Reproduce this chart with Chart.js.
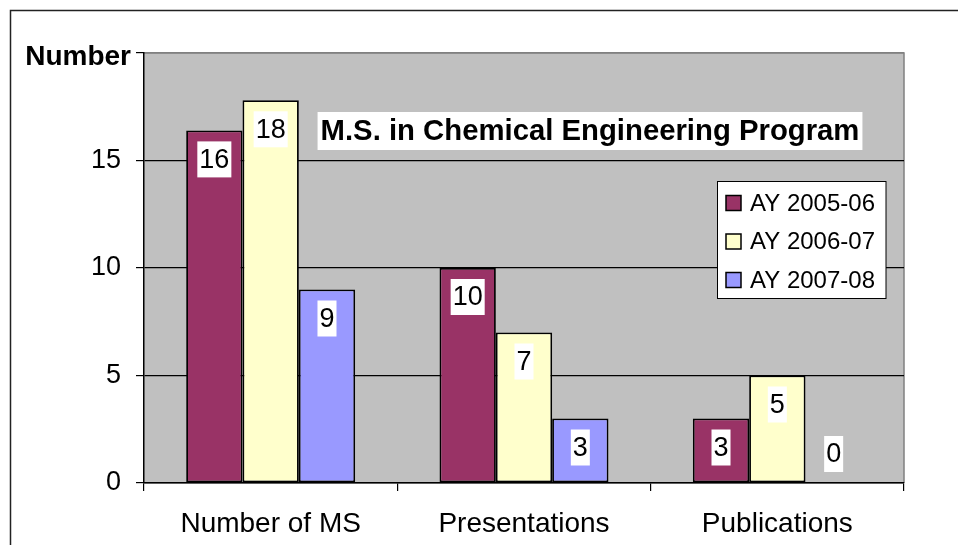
<!DOCTYPE html>
<html>
<head>
<meta charset="utf-8">
<script src="https://cdn.jsdelivr.net/npm/chart.js@4"></script>
<style>
  html, body { margin: 0; padding: 0; background: #fff; }
  #wrap { width: 958px; height: 545px; position: relative; }
</style>
</head>
<body>
<div id="wrap"><canvas id="msChart"></canvas></div>
<script>
// Chart data
const categories = ['Number of MS', 'Presentations', 'Publications'];
const seriesNames = ['AY 2005-06', 'AY 2006-07', 'AY 2007-08'];
const ay0506 = [16.4, 10, 3];
const ay0607 = [17.8, 7, 5];
const ay0708 = [9, 3, 0];
const seriesColors = ['#993366', '#FFFFCC', '#9999FF'];
const yTicks = [0, 5, 10, 15, 20];
const chartTitle = 'M.S. in Chemical Engineering Program';
const yTitle = 'Number';

const FONT = '"Liberation Sans", Arial, sans-serif';

// Background, plot frame, outer border
const backdrop = {
  id: 'backdrop',
  beforeDraw(chart) {
    const { ctx, chartArea: a } = chart;
    ctx.save();
    ctx.fillStyle = '#fff';
    ctx.fillRect(0, 0, chart.width, chart.height);
    ctx.strokeStyle = '#222';
    ctx.lineWidth = 1.5;
    ctx.beginPath();
    ctx.moveTo(10.5, chart.height + 2);
    ctx.lineTo(10.5, 10.5);
    ctx.lineTo(chart.width + 2, 10.5);
    ctx.stroke();
    ctx.fillStyle = '#C0C0C0';
    ctx.fillRect(a.left, a.top, a.right - a.left, a.bottom - a.top);
    ctx.strokeStyle = '#808080';
    ctx.lineWidth = 1.5;
    ctx.beginPath();
    ctx.moveTo(a.left, a.top);
    ctx.lineTo(a.right, a.top);
    ctx.lineTo(a.right, a.bottom);
    ctx.stroke();
    ctx.restore();
  }
};

// Value labels, title, axis title and legend
const overlay = {
  id: 'overlay',
  afterDatasetsDraw(chart) {
    const { ctx } = chart;
    const base = chart.scales.y.getPixelForValue(0);
    ctx.save();
    ctx.textAlign = 'center';
    ctx.textBaseline = 'middle';
    ctx.font = '27px ' + FONT;
    chart.data.datasets.forEach((ds, i) => {
      chart.getDatasetMeta(i).data.forEach((bar, j) => {
        const txt = String(Math.round(ds.data[j]));
        const w = ctx.measureText(txt).width + 4;
        const cy = Math.min(bar.y + 29, base - 29);
        ctx.fillStyle = '#fff';
        ctx.fillRect(bar.x - w / 2, cy - 18, w, 36);
        ctx.fillStyle = '#000';
        ctx.fillText(txt, bar.x, cy + 1);
      });
    });

    // chart title
    ctx.font = 'bold 29.3px ' + FONT;
    const tw = ctx.measureText(chartTitle).width + 6;
    ctx.fillStyle = '#fff';
    ctx.fillRect(590 - tw / 2, 112, tw, 38);
    ctx.fillStyle = '#000';
    ctx.fillText(chartTitle, 590, 132);

    // y-axis title
    ctx.textAlign = 'right';
    ctx.font = 'bold 28px ' + FONT;
    ctx.fillText(yTitle, 131, 57);

    // legend
    const lx = 717.5, ly = 181.5, lw = 168.5, lh = 117;
    ctx.fillStyle = '#fff';
    ctx.fillRect(lx, ly, lw, lh);
    ctx.strokeStyle = '#000';
    ctx.lineWidth = 1;
    ctx.strokeRect(lx, ly, lw, lh);
    ctx.textAlign = 'left';
    ctx.font = '24px ' + FONT;
    chart.data.datasets.forEach((ds, i) => {
      const cy = 203 + i * 38.5;
      ctx.fillStyle = ds.backgroundColor;
      ctx.fillRect(726, cy - 7.5, 15, 15);
      ctx.lineWidth = 1.5;
      ctx.strokeRect(726, cy - 7.5, 15, 15);
      ctx.fillStyle = '#000';
      ctx.fillText(ds.label, 750, cy + 1);
    });
    ctx.restore();
  }
};

const datasets = [ay0506, ay0607, ay0708].map((vals, i) => ({
  label: seriesNames[i],
  data: vals,
  backgroundColor: seriesColors[i],
  borderColor: '#000',
  borderWidth: 1.8,
  borderSkipped: false,
  categoryPercentage: 0.667,
  barPercentage: 1.0
}));

new Chart(document.getElementById('msChart'), {
  type: 'bar',
  data: { labels: categories, datasets: datasets },
  options: {
    responsive: true,
    maintainAspectRatio: false,
    animation: false,
    layout: { padding: { top: 53, right: 54, left: 0, bottom: 0 } },
    plugins: {
      legend: { display: false },
      title: { display: false },
      tooltip: { enabled: false }
    },
    scales: {
      y: {
        min: yTicks[0],
        max: yTicks[yTicks.length - 1],
        afterBuildTicks(scale) {
          scale.ticks = yTicks.map(v => ({ value: v }));
        },
        afterFit(scale) { scale.width = 144; },
        border: { color: '#000', width: 1.5 },
        grid: {
          color: ctx => ctx.tick && ctx.tick.value === 20 ? '#808080' : '#000',
          tickColor: '#000',
          lineWidth: 1.2,
          tickLength: 8
        },
        ticks: {
          color: '#000',
          padding: 15,
          font: { family: FONT, size: 27 },
          callback: v => (v === 20 ? '' : v)
        }
      },
      x: {
        afterFit(scale) { scale.height = 62; },
        border: { color: '#000', width: 1.5 },
        grid: {
          drawOnChartArea: false,
          tickColor: '#000',
          tickLength: 8,
          lineWidth: 1.2
        },
        ticks: {
          color: '#000',
          padding: 16,
          font: { family: FONT, size: 28 }
        }
      }
    }
  },
  plugins: [backdrop, overlay]
});
</script>
</body>
</html>
